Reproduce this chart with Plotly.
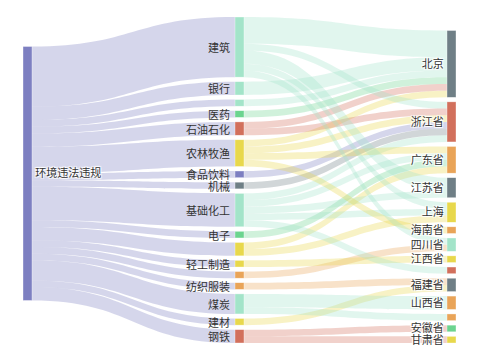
import plotly.graph_objects as go

# ---------------- data ----------------
source_name = "环境违法违规"

industries = ["建筑", "银行", "·a", "医药", "石油石化", "农林牧渔", "食品饮料", "机械",
              "基础化工", "电子", "·b", "轻工制造", "·c", "纺织服装", "煤炭", "建材", "钢铁"]
industry_values = [9, 2, 1, 1, 2, 4, 1, 1, 5, 1, 2, 1, 1, 1, 3, 1, 2]

regions = ["北京", "浙江省", "广东省", "江苏省", "上海", "海南省", "四川省", "江西省",
           "·r", "福建省", "山西省", "·o", "安徽省", "甘肃省"]

flow_src = ["建筑", "银行", "·a", "医药", "石油石化", "农林牧渔",
            "建筑", "石油石化", "农林牧渔", "食品饮料", "机械", "基础化工",
            "农林牧渔", "基础化工", "电子", "·b",
            "建筑", "基础化工",
            "建筑", "基础化工", "·b",
            "农林牧渔",
            "建筑", "·c",
            "轻工制造",
            "基础化工",
            "纺织服装", "建材",
            "煤炭", "煤炭",
            "钢铁", "钢铁"]
flow_dst = ["北京", "北京", "北京", "北京", "北京", "北京",
            "浙江省", "浙江省", "浙江省", "浙江省", "浙江省", "浙江省",
            "广东省", "广东省", "广东省", "广东省",
            "江苏省", "江苏省",
            "上海", "上海", "上海",
            "海南省",
            "四川省", "四川省",
            "江西省",
            "·r",
            "福建省", "福建省",
            "山西省", "·o",
            "安徽省", "甘肃省"]
flow_val = [4, 2, 1, 1, 1, 1,
            1, 1, 1, 1, 1, 1,
            1, 1, 1, 1,
            2, 1,
            1, 1, 1,
            1,
            1, 1,
            1,
            1,
            1, 1,
            2, 1,
            1, 1]

# ---------------- styles ----------------
PURPLE = "#7d7fc1"
LGREEN = "#a3e4c9"
GREEN = "#6cd48f"
RED = "#d2705c"
YELLOW = "#e8d84c"
ORANGE = "#e9a458"
GRAY = "#6f7f86"

industry_colors = [LGREEN, LGREEN, LGREEN, GREEN, RED, YELLOW, PURPLE, GRAY,
                   LGREEN, GREEN, YELLOW, YELLOW, ORANGE, ORANGE, LGREEN, YELLOW, RED]
region_colors = [GRAY, RED, ORANGE, GRAY, YELLOW, ORANGE, LGREEN, YELLOW,
                 RED, GRAY, ORANGE, ORANGE, GREEN, YELLOW]

FONT = "Noto Sans CJK SC"
FSIZE = 11
FCOLOR = "#333333"


def rgba(hex_color, a):
    h = hex_color.lstrip("#")
    return "rgba(%d,%d,%d,%.2f)" % (int(h[0:2], 16), int(h[2:4], 16), int(h[4:6], 16), a)


W, H = 480, 360
# intended drawing box of the sankey (page pixels)
BOX_L, BOX_T, PW, PH = 23, 17, 433, 326
OFF = 8  # page body margin in front of the figure
ML, MT = BOX_L - OFF, BOX_T - OFF
MR, MB = W - ML - PW, H - MT - PH
PAD = 4.5
THICK = 9

total = sum(industry_values)
ky = (PH - (len(industries) - 1) * PAD) / total

nodes = [source_name] + industries + regions
idx = {n: i for i, n in enumerate(nodes)}
# middle column labels are drawn as annotations (to the left of the nodes)
labels = [source_name] + [""] * len(industries) + ["" if n.startswith("·") else n for n in regions]
colors = [PURPLE] + industry_colors + region_colors

region_values = [sum(v for d, v in zip(flow_dst, flow_val) if d == r) for r in regions]

xs, ys = [], []
xs.append((THICK / 2) / PW)
ys.append(0.48)
mid_centers = []
top = 0.0
for v in industry_values:
    h = v * ky
    xs.append(0.5)
    ys.append((top + h / 2) / PH)
    mid_centers.append(top + h / 2)
    top += h + PAD
heights = [v * ky for v in region_values]
span = sum(heights) + PAD * (len(regions) - 1)
top = PH - span
for h in heights:
    xs.append(1 - (THICK / 2) / PW)
    ys.append((top + h / 2) / PH)
    top += h + PAD

link_s, link_t, link_v, link_c = [], [], [], []
for n, v in zip(industries, industry_values):
    link_s.append(idx[source_name]); link_t.append(idx[n]); link_v.append(v)
    link_c.append(rgba(PURPLE, 0.32))
for s, d, v in zip(flow_src, flow_dst, flow_val):
    link_s.append(idx[s]); link_t.append(idx[d]); link_v.append(v)
    link_c.append(rgba(industry_colors[industries.index(s)], 0.32))

fig = go.Figure(go.Sankey(
    arrangement="snap",
    node=dict(label=labels, color=colors, x=xs, y=ys, pad=PAD, thickness=THICK,
              line=dict(width=0.6, color="rgba(255,255,255,0.6)")),
    link=dict(source=link_s, target=link_t, value=link_v, color=link_c),
    textfont=dict(family=FONT, size=FSIZE, color=FCOLOR),
    hoverinfo="none",
))

# labels of the middle column, right-aligned just left of each node
label_gap = 4
mid_right = 0.5 - (THICK / 2 + label_gap) / PW
for name, c in zip(industries, mid_centers):
    if name.startswith("·"):
        continue
    fig.add_annotation(x=mid_right, y=1 - c / PH,
                       xref="paper", yref="paper", xanchor="right", yanchor="middle",
                       text=name, showarrow=False, borderpad=0,
                       font=dict(family=FONT, size=FSIZE, color=FCOLOR))

fig.update_layout(width=W, height=H, margin=dict(l=ML, r=MR, t=MT, b=MB),
                  paper_bgcolor="white", plot_bgcolor="white")
fig.write_html("out.html")
